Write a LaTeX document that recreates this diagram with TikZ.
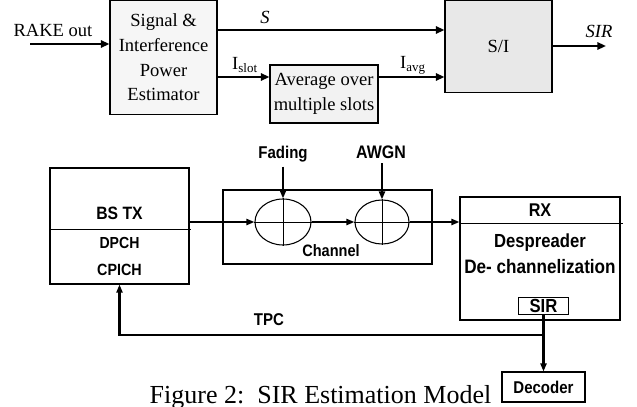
\documentclass[tikz,border=0pt]{standalone}
\usepackage{fontspec}
\setmainfont{Liberation Serif}
\newfontfamily\arialfont[FakeStretch=0.88]{Liberation Sans}
\usetikzlibrary{arrows.meta,shapes.geometric}

\begin{document}
\begin{tikzpicture}[
    x=0.75pt, y=-0.75pt,
    >={Triangle[length=6.5pt,width=5.5pt]},
    serif/.style={font=\fontsize{13.9}{18.5}\selectfont},
    lbl/.style={font=\arialfont\bfseries\fontsize{12.8}{15}\selectfont},
    lblbig/.style={font=\arialfont\bfseries\fontsize{14.2}{17}\selectfont},
    blk/.style={draw, line width=0.8pt, inner sep=0pt, align=center},
    sig/.style={->, line width=1.5pt},
    link/.style={-{Triangle[length=6pt,width=4.5pt]}, line width=1.9pt},
    summer/.style={ellipse, draw, line width=0.8pt, inner sep=0pt},
]
\useasboundingbox (0,0) rectangle (637,407);

% SIR estimator
\node[blk, serif, fill=gray!7, minimum width=80.25pt, minimum height=85.5pt] (est) at (163.5,57.5) {Signal \&\\Interference\\Power\\Estimator};
\node[blk, serif, fill=gray!10, minimum width=81pt, minimum height=43.5pt] (avg) at (324,94) {Average over\\multiple slots};
\node[blk, serif, fill=gray!18, minimum width=80.25pt, minimum height=69pt] (si) at (498.5,46.5) {S/I};

\node[serif] (rake) at (53,30) {RAKE out};
\coordinate (rakein) at (30,44);
\draw[sig] (rakein) -- (rakein -| est.west);

\draw[sig] (est.east |- 0,30) -- (si.west |- 0,30);
\node[serif] (s) at (265,17) {\itshape S};

\draw[sig] (est.east |- 0,77) -- (avg.west |- 0,77);
\node[serif] (islot) at (245,65) {I\textsubscript{slot}};
\draw[sig] (avg.east |- 0,77) -- (si.west |- 0,77);
\node[serif] (iavg) at (413,65) {I\textsubscript{avg}};

\coordinate (sirout) at (606,46);
\draw[sig] (si.east |- sirout) -- (sirout);
\node[serif] (sir) at (599,31) {\itshape SIR};

% transmitter
\node[blk, minimum width=104.25pt, minimum height=87pt] (bstx) at (119.5,226) {};
\draw[line width=0.6pt] (bstx.west |- 0,229) -- (191,229);
\node[lbl, font=\arialfont\bfseries\fontsize{13.4}{15}\selectfont] (bs) at (119.5,213) {BS TX};
\node[lbl, font=\arialfont\bfseries\fontsize{12}{14}\selectfont] (dpch) at (119.5,243) {DPCH};
\node[lbl, font=\arialfont\bfseries\fontsize{12.2}{14}\selectfont] (cpich) at (119.5,270) {CPICH};

% channel
\node[draw, line width=1.9pt, minimum width=156.75pt, minimum height=55.5pt] (chan) at (327.5,227) {};
\node[lbl, font=\arialfont\bfseries\fontsize{12.4}{14}\selectfont] (chlabel) at (331,251) {Channel};
\node[summer, minimum width=42pt, minimum height=34.5pt] (sum1) at (283,222) {};
\node[summer, minimum width=40.5pt, minimum height=33pt] (sum2) at (382,222) {};
\foreach \s in {sum1,sum2} {
    \draw[line width=0.6pt] (\s.north) -- (\s.south);
    \draw[line width=0.6pt] (\s.west) -- (\s.east);
}
\node[lbl] (fading) at (283,154) {Fading};
\node[lbl, font=\arialfont\bfseries\fontsize{13.6}{15}\selectfont] (awgn) at (381,152) {AWGN};
\draw[link] (sum1.north |- fading.south) -- (sum1.north);
\draw[link] (sum2.north |- awgn.south) -- (sum2.north);

\draw[link] (bstx.east |- sum1) -- (sum1.west);
\draw[link] (sum1) -- (sum2);

% receiver
\node[blk, minimum width=120pt, minimum height=92.25pt] (rx) at (540,258.5) {};
\draw[link] (sum2) -- (rx.west |- sum2);
\draw[line width=0.6pt] (rx.west |- 0,223) -- (623,223);
\node[lbl, font=\arialfont\bfseries\fontsize{13.8}{15}\selectfont] (rxlabel) at (540,210) {RX};
\node[lblbig] (desp) at (540,243) {Despreader};
\node[lblbig, font=\arialfont\bfseries\fontsize{14.6}{17}\selectfont] (dech) at (540,267) {De- channelization};
\node[blk, lblbig, minimum width=37pt, minimum height=13pt] (sirbox) at (543.5,306) {SIR};
\node[blk, lbl, minimum width=62.25pt, minimum height=22.5pt] (dec) at (543.5,387) {Decoder};

% feedback
\draw[link] (sirbox.south) -- (sirbox.south |- dec.north);
\draw[link] (sirbox.south |- 0,335) -| (bstx.south);
\node[lbl] (tpc) at (269,320) {TPC};

\node[font=\fontsize{19.5}{24}\selectfont, anchor=base] (caption) at (320.5,403) {Figure 2:\ \ SIR Estimation Model};
\end{tikzpicture}
\end{document}
